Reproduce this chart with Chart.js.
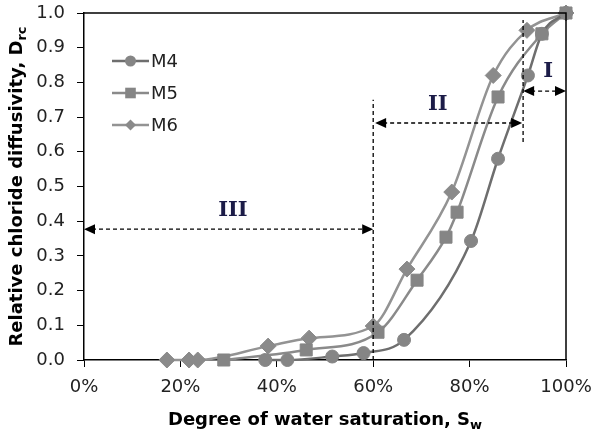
<!DOCTYPE html>
<html lang="en">

<head>
  <meta charset="UTF-8" />
  <title>Relative chloride diffusivity</title>
  <script src="https://cdn.jsdelivr.net/npm/chart.js"></script>
  <style>
    body { margin: 0; background: #fff; }
  </style>
</head>

<body>
  <canvas id="chart" width="593" height="432"></canvas>

  <script>
    // degree of water saturation (%) and relative diffusivity per mix
    const m4X = [37.6, 42.2, 51.5, 58, 66.4, 80.3, 85.9, 92.1, 95, 100];
    const m4Y = [0, 0, 0.01, 0.02, 0.058, 0.343, 0.58, 0.82, 0.94, 1.0];
    const m5X = [29, 46.1, 61, 69.1, 75.1, 77.4, 85.9, 95, 100];
    const m5Y = [0, 0.029, 0.08, 0.23, 0.354, 0.426, 0.758, 0.94, 1.0];
    const m6X = [17.2, 21.8, 23.6, 38.2, 46.7, 60, 67, 76.3, 84.9, 91.9, 100];
    const m6Y = [0, 0, 0, 0.04, 0.063, 0.098, 0.262, 0.484, 0.82, 0.95, 1.0];

    const xTicks = [0, 20, 40, 60, 80, 100];
    const yTicks = [0, 0.1, 0.2, 0.3, 0.4, 0.5, 0.6, 0.7, 0.8, 0.9, 1.0];

    // zones: [from x, to x, arrow y], label, label position
    const zoneArrows = [[0, 60, 0.377], [60.4, 90.9, 0.683], [91.1, 100, 0.775]];
    const zoneNames = ['III', 'II', 'I'];
    const zoneLabelAt = [[30.9, 0.432], [73.4, 0.735], [96.3, 0.83]];
    // dashed boundaries: [x, y from, y to]
    const boundaries = [[60, 0, 0.75], [91.1, 0.628, 0.98]];

    const FONT = '"DejaVu Sans", Verdana, sans-serif';
    const pts = (xs, ys) => xs.map((x, i) => ({ x: x, y: ys[i] }));

    function marker(ctx, style, x, y, r) {
      ctx.beginPath();
      if (style === 'circle') {
        ctx.arc(x, y, r, 0, Math.PI * 2);
      } else if (style === 'rect') {
        const s = r * Math.SQRT1_2;
        ctx.rect(x - s, y - s, 2 * s, 2 * s);
      } else {
        ctx.moveTo(x, y - r); ctx.lineTo(x + r, y);
        ctx.lineTo(x, y + r); ctx.lineTo(x - r, y);
        ctx.closePath();
      }
      ctx.fill();
    }

    function arrowHead(ctx, x, y, dir) {
      ctx.beginPath();
      ctx.moveTo(x, y);
      ctx.lineTo(x - dir * 11, y - 5);
      ctx.lineTo(x - dir * 11, y + 5);
      ctx.closePath();
      ctx.fill();
    }

    // keep tick labels from pushing the plot area around
    function noOverflow(s) {
      s.paddingTop = 0; s.paddingBottom = 0;
      s.paddingLeft = 0; s.paddingRight = 0;
    }

    const extras = {
      id: 'extras',
      afterDraw(chart) {
        const ctx = chart.ctx;
        const a = chart.chartArea;
        const xs = chart.scales.x, ys = chart.scales.y;
        ctx.save();

        // top and right frame
        ctx.strokeStyle = '#000';
        ctx.lineWidth = 1.5;
        ctx.beginPath();
        ctx.moveTo(a.left, a.top); ctx.lineTo(a.right, a.top); ctx.lineTo(a.right, a.bottom);
        ctx.stroke();

        // zone boundaries and arrows
        ctx.lineWidth = 1.3;
        ctx.setLineDash([4, 3]);
        boundaries.forEach(b => {
          const px = xs.getPixelForValue(b[0]);
          ctx.beginPath();
          ctx.moveTo(px, ys.getPixelForValue(b[1]));
          ctx.lineTo(px, ys.getPixelForValue(b[2]));
          ctx.stroke();
        });
        zoneArrows.forEach(z => {
          const x1 = xs.getPixelForValue(z[0]), x2 = xs.getPixelForValue(z[1]);
          const py = ys.getPixelForValue(z[2]);
          ctx.setLineDash([4, 3]);
          ctx.beginPath();
          ctx.moveTo(x1 + 8, py); ctx.lineTo(x2 - 8, py);
          ctx.stroke();
          ctx.setLineDash([]);
          ctx.fillStyle = '#000';
          arrowHead(ctx, x1, py, -1);
          arrowHead(ctx, x2, py, 1);
        });
        ctx.setLineDash([]);

        ctx.fillStyle = '#1c1c48';
        ctx.font = 'bold 21px "DejaVu Serif", serif';
        ctx.textAlign = 'center';
        ctx.textBaseline = 'middle';
        zoneNames.forEach((n, i) => {
          ctx.fillText(n, xs.getPixelForValue(zoneLabelAt[i][0]), ys.getPixelForValue(zoneLabelAt[i][1]));
        });

        // legend inside the plot
        chart.data.datasets.forEach((ds, i) => {
          const ly = 61 + i * 32;
          ctx.strokeStyle = ds.borderColor;
          ctx.lineWidth = 2.5;
          ctx.beginPath();
          ctx.moveTo(112, ly); ctx.lineTo(149, ly);
          ctx.stroke();
          ctx.fillStyle = ds.backgroundColor;
          marker(ctx, ds.pointStyle, 130.5, ly, ds.pointStyle === 'rectRot' ? 5.5 : (ds.pointStyle === 'rect' ? 7.5 : 5.5));
          ctx.fillStyle = '#222';
          ctx.font = '18px ' + FONT;
          ctx.textAlign = 'left';
          ctx.fillText(ds.label, 151, ly + 1);
        });

        // axis titles with subscripts
        ctx.fillStyle = '#000';
        ctx.textBaseline = 'alphabetic';
        ctx.textAlign = 'left';
        const big = 'bold 18px ' + FONT;
        const small = 'bold 13px ' + FONT;

        const xMain = 'Degree of water saturation, S', xSub = 'w';
        ctx.font = big; const xw1 = ctx.measureText(xMain).width;
        ctx.font = small; const xw2 = ctx.measureText(xSub).width;
        let sx = (a.left + a.right) / 2 - (xw1 + xw2) / 2;
        ctx.font = big; ctx.fillText(xMain, sx, 425);
        ctx.font = small; ctx.fillText(xSub, sx + xw1, 429);

        const yMain = 'Relative chloride diffusivity, D', ySub = 'rc';
        ctx.font = big; const yw1 = ctx.measureText(yMain).width;
        ctx.font = small; const yw2 = ctx.measureText(ySub).width;
        ctx.translate(22, (a.top + a.bottom) / 2);
        ctx.rotate(-Math.PI / 2);
        sx = -(yw1 + yw2) / 2;
        ctx.font = big; ctx.fillText(yMain, sx, 0);
        ctx.font = small; ctx.fillText(ySub, sx + yw1, 4);

        ctx.restore();
      }
    };

    new Chart(document.getElementById('chart'), {
      type: 'scatter',
      data: {
        datasets: [
          {
            label: 'M4',
            data: pts(m4X, m4Y),
            borderColor: '#6e6e6e',
            backgroundColor: '#858585',
            pointBorderColor: '#858585',
            pointStyle: 'circle',
            pointRadius: 6.5
          },
          {
            label: 'M5',
            data: pts(m5X, m5Y),
            borderColor: '#8a8a8a',
            backgroundColor: '#858585',
            pointBorderColor: '#858585',
            pointStyle: 'rect',
            pointRadius: 8.5
          },
          {
            label: 'M6',
            data: pts(m6X, m6Y),
            borderColor: '#939393',
            backgroundColor: '#8a8a8a',
            pointBorderColor: '#8a8a8a',
            pointStyle: 'rectRot',
            pointRadius: 8
          }
        ]
      },
      options: {
        responsive: false,
        animation: false,
        devicePixelRatio: 1,
        layout: { padding: { top: 13, right: 27, left: 0, bottom: 0 } },
        datasets: {
          scatter: {
            showLine: true,
            borderWidth: 2.5,
            pointBorderWidth: 1,
            cubicInterpolationMode: 'monotone',
            clip: false
          }
        },
        plugins: {
          legend: { display: false },
          tooltip: { enabled: false }
        },
        scales: {
          x: {
            type: 'linear',
            min: 0,
            max: 100,
            afterFit: s => { s.height = 72; noOverflow(s); },
            afterBuildTicks: s => { s.ticks = xTicks.map(v => ({ value: v })); },
            grid: { drawOnChartArea: false, drawTicks: true, tickLength: 7, color: '#000' },
            border: { display: true, color: '#000', width: 1.5 },
            ticks: {
              padding: 10,
              color: '#222',
              font: { family: FONT, size: 18 },
              callback: v => v + '%'
            }
          },
          y: {
            min: 0,
            max: 1,
            afterFit: s => { s.width = 84; noOverflow(s); },
            afterBuildTicks: s => { s.ticks = yTicks.map(v => ({ value: v })); },
            grid: { drawOnChartArea: false, drawTicks: true, tickLength: 7, color: '#000' },
            border: { display: true, color: '#000', width: 1.5 },
            ticks: {
              padding: 12,
              color: '#222',
              font: { family: FONT, size: 18 },
              callback: v => v.toFixed(1)
            }
          }
        }
      },
      plugins: [extras]
    });
  </script>
</body>

</html>
